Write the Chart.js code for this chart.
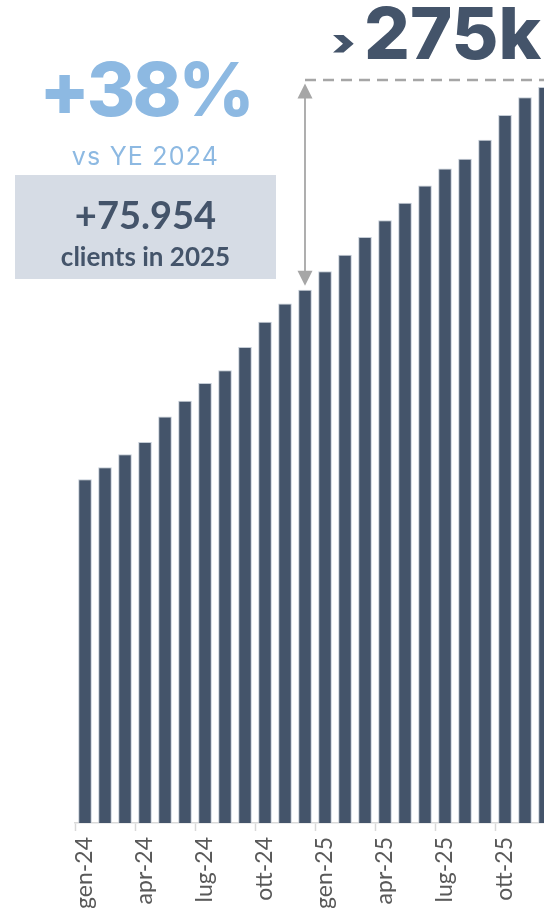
<!DOCTYPE html>
<html>
<head>
<meta charset="utf-8">
<title>Clienti</title>
<script src="https://cdn.jsdelivr.net/npm/chart.js@4/dist/chart.umd.min.js"></script>
<style>
  html, body { margin: 0; padding: 0; background: #fff; }
  #wrap { position: relative; width: 544px; height: 908px; overflow: hidden; }
  #chart { position: absolute; left: 0; top: 0; }
  .col { position: absolute; left: 15px; width: 261px; text-align: center; white-space: nowrap; line-height: 1; }
  #growth { top: 44px; font: 800 74px Inter, sans-serif; color: #8db9e2; letter-spacing: -3px; }
  #vsye { top: 141px; font: 400 25px Inter, sans-serif; color: #8db9e2; letter-spacing: 1.2px; }
  #box { position: absolute; left: 15px; top: 175px; width: 261px; height: 104px; background: #d6dce5; }
  #added { top: 191px; font: 700 38px Lato, sans-serif; color: #44546a; }
  #addedSub { top: 240px; font: 700 26px Lato, sans-serif; color: #44546a; }
  #total { position: absolute; left: 364px; top: -3px; font: 800 72px Inter, sans-serif; color: #44546a; line-height: 1; white-space: nowrap; }
  #chev { position: absolute; left: 334px; top: 22px; font: 900 40px Inter, sans-serif; color: #44546a; line-height: 1; transform: scale(1.3, 0.95); }
</style>
</head>
<body>
<div id="wrap">
  <canvas id="chart" width="580" height="908"></canvas>
  <div id="chev">›</div>
  <div id="total"></div>
  <div id="growth" class="col"></div>
  <div id="vsye" class="col">vs YE 2024</div>
  <div id="box"></div>
  <div id="added" class="col"></div>
  <div id="addedSub" class="col">clients in 2025</div>
</div>
<script>
const months = [
  'gen-24', 'feb-24', 'mar-24', 'apr-24', 'mag-24', 'giu-24',
  'lug-24', 'ago-24', 'set-24', 'ott-24', 'nov-24', 'dic-24',
  'gen-25', 'feb-25', 'mar-25', 'apr-25', 'mag-25', 'giu-25',
  'lug-25', 'ago-25', 'set-25', 'ott-25', 'nov-25', 'dic-25',
];

// total clients at month end
const clients = [
  128800, 133300, 138200, 142800, 152400, 158300,
  164900, 169700, 178400, 187900, 194700, 199879,
  206800, 213000, 219600, 225900, 232500, 238900,
  245300, 249000, 256100, 265400, 272000, 275833,
];

const BAR = '#44546a';
const GREY = '#a6a6a6';

const baseIdx = months.indexOf('dic-24');
const lastIdx = clients.length - 1;
const added = clients[lastIdx] - clients[baseIdx];
const pct = Math.round(added / clients[baseIdx] * 100);

const dotted = n => String(n).replace(/\B(?=(\d{3})+(?!\d))/g, '.');
document.getElementById('growth').textContent = '+' + pct + '%';
document.getElementById('added').textContent = '+' + dotted(added);
document.getElementById('total').textContent = Math.floor(clients[lastIdx] / 1000) + 'k';

// dashed level line at the latest total + double arrow down to YE 2024
const growthMarker = {
  id: 'growthMarker',
  afterDatasetsDraw(chart) {
    const { ctx, scales: { x, y } } = chart;
    const ax = x.getPixelForValue(baseIdx);
    const top = y.getPixelForValue(clients[lastIdx]) - 7;
    const bottom = y.getPixelForValue(clients[baseIdx]) - 4;
    ctx.save();
    ctx.strokeStyle = GREY;
    ctx.fillStyle = GREY;
    ctx.lineWidth = 2.5;
    ctx.setLineDash([11, 7]);
    ctx.beginPath();
    ctx.moveTo(ax, top);
    ctx.lineTo(chart.width, top);
    ctx.stroke();

    ctx.setLineDash([]);
    ctx.lineWidth = 1.8;
    ctx.beginPath();
    ctx.moveTo(ax, top + 12);
    ctx.lineTo(ax, bottom - 12);
    ctx.stroke();

    const head = (tipY, dir) => {
      ctx.beginPath();
      ctx.moveTo(ax, tipY);
      ctx.lineTo(ax - 7.5, tipY + dir * 15);
      ctx.lineTo(ax + 7.5, tipY + dir * 15);
      ctx.closePath();
      ctx.fill();
    };
    head(top + 3.5, 1);
    head(bottom, -1);
    ctx.restore();
  },
};

new Chart(document.getElementById('chart'), {
  type: 'bar',
  data: {
    labels: months,
    datasets: [{
      data: clients,
      backgroundColor: BAR,
      borderColor: 'rgba(190, 198, 210, 0.9)',
      borderWidth: 1,
      categoryPercentage: 1,
      barPercentage: 0.68,
    }],
  },
  options: {
    responsive: false,
    animation: false,
    layout: { padding: { top: 22.6, left: 75, right: 25, bottom: 0 } },
    plugins: { legend: { display: false }, tooltip: { enabled: false } },
    scales: {
      y: { display: false, min: 0, max: 300000 },
      x: {
        offset: true,
        grid: {
          offset: true,
          drawOnChartArea: false,
          tickLength: 8,
          tickWidth: 1.5,
          tickColor: c => (c.index % 3 === 0 ? '#d9d9d9' : 'rgba(0,0,0,0)'),
        },
        border: { color: '#d9d9d9', width: 1.5 },
        ticks: {
          autoSkip: false,
          minRotation: 90,
          maxRotation: 90,
          padding: 6,
          color: '#595959',
          font: { family: 'Lato', size: 23 },
          callback(v, i) { return i % 3 === 0 ? this.getLabelForValue(v) : ''; },
        },
        afterFit(scale) { scale.height = 85; },
      },
    },
  },
  plugins: [growthMarker],
});
</script>
</body>
</html>
